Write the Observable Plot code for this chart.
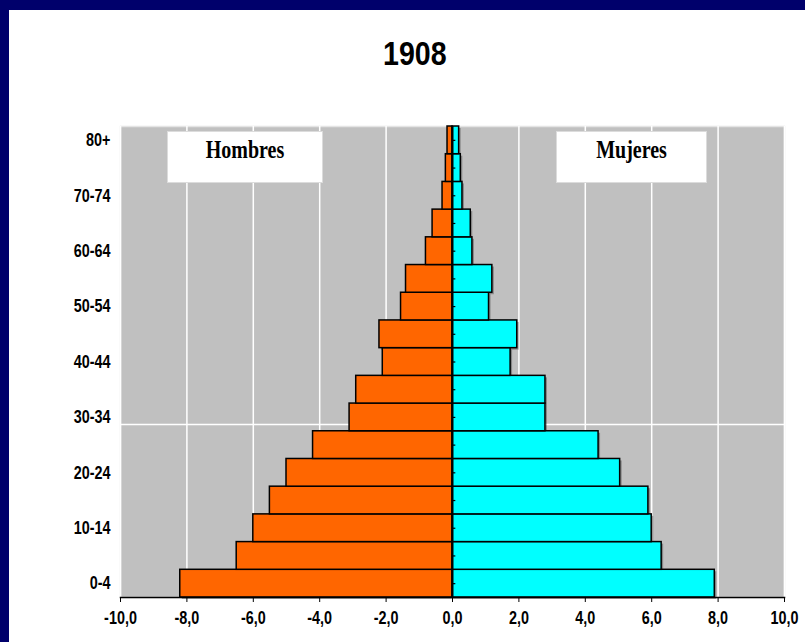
<!DOCTYPE html>
<html><head><meta charset="utf-8">
<script src="https://cdn.jsdelivr.net/npm/d3@7"></script>
<script src="https://cdn.jsdelivr.net/npm/@observablehq/plot@0.6"></script>
<style>
body{margin:0;background:#fff;}
#wrap{position:relative;width:805px;height:642px;background:#00006b;overflow:hidden;}
#panel{position:absolute;left:9px;top:10px;right:0;bottom:0;background:#fff;}
#title{position:absolute;left:0;width:829px;top:34px;text-align:center;line-height:34px;}
#title span{display:inline-block;font:bold 34px 'Liberation Sans',Arial,sans-serif;transform:scaleX(0.84);color:#000;}
#chart{position:absolute;left:0;top:100px;}
.lab{position:absolute;top:131px;height:52px;background:#fff;border:1px solid #dcdcdc;box-sizing:border-box;}
.lab span{position:absolute;left:0;right:0;top:5px;text-align:center;font:bold 25px 'Liberation Serif','Times New Roman',serif;line-height:25px;transform:scaleX(0.8);color:#000;}
</style></head>
<body>
<div id="wrap">
  <div id="panel"></div>
  <div id="title"><span>1908</span></div>
  <div id="chart"></div>
  <div class="lab" style="left:167px;width:156px;"><span>Hombres</span></div>
  <div class="lab" style="left:556px;width:151px;"><span>Mujeres</span></div>
</div>
<script>
const ages = ["0-4","5-9","10-14","15-19","20-24","25-29","30-34","35-39","40-44","45-49","50-54","55-59","60-64","65-69","70-74","75-79","80+"];
const hombres = [8.2, 6.5, 6.0, 5.5, 5.0, 4.2, 3.1, 2.9, 2.1, 2.2, 1.55, 1.4, 0.8, 0.6, 0.3, 0.2, 0.15];
const mujeres = [7.9, 6.3, 6.0, 5.9, 5.05, 4.4, 2.8, 2.8, 1.75, 1.95, 1.1, 1.2, 0.6, 0.55, 0.3, 0.25, 0.2];
const yLabels = ["0-4","10-14","20-24","30-34","40-44","50-54","60-64","70-74","80+"];
const xTicks = [-10,-8,-6,-4,-2,0,2,4,6,8,10];

const dataH = ages.map((a,i)=>({age:a, v:-hombres[i]}));
const dataM = ages.map((a,i)=>({age:a, v:mujeres[i]}));
const fmt = d => d3.format(".1f")(d).replace(".", ",").replace("\u2212","-");
const font = "'Liberation Sans',Arial,sans-serif";

const chart = Plot.plot({
  width: 805, height: 542,
  marginLeft: 120, marginRight: 21, marginTop: 26, marginBottom: 45,
  style: {fontFamily: font, fontWeight: "bold", fontSize: "18px", color: "#000", background: "transparent"},
  x: {domain: [-10, 10], label: null},
  y: {domain: ages.slice().reverse(), padding: 0, round: false, label: null},
  marks: [
    Plot.frame({fill: "#c0c0c0", stroke: "#e4e4e4", strokeWidth: 1.5}),
    Plot.gridX(xTicks, {stroke: "#fff", strokeOpacity: 1, strokeWidth: 1.5}),
    Plot.ruleY(["30-34"], {dy: 7, stroke: "#fff", strokeWidth: 1.5}),
    Plot.barX(dataH, {x: "v", y: "age", fill: "#000", fillOpacity: 0.3, dx: 2, dy: 2}),
    Plot.barX(dataM, {x: "v", y: "age", fill: "#000", fillOpacity: 0.3, dx: 2, dy: 2}),
    Plot.barX(dataH, {x: "v", y: "age", fill: "#ff6600", stroke: "#000", strokeWidth: 1.5}),
    Plot.barX(dataM, {x: "v", y: "age", fill: "#00ffff", stroke: "#000", strokeWidth: 1.5}),
    Plot.ruleX([0], {stroke: "#000", strokeWidth: 2}),
    Plot.ruleY(ages, {x1: 0, x2: 0.1, stroke: "#000", strokeWidth: 1.2}),
    Plot.axisY(yLabels, {tickSize: 0, tickPadding: 10, fontSize: 18}),
    Plot.axisX(xTicks, {tickSize: 5, tickPadding: 9, tickFormat: fmt, fontSize: 18}),
    Plot.frame({anchor: "bottom", stroke: "#000", strokeWidth: 1.5})
  ]
});
document.getElementById("chart").appendChild(chart);
// condense the Arial-like labels as in the reference
d3.select(chart).selectAll("g[aria-label$='tick label'] text").each(function() {
  const L = this.getComputedTextLength();
  this.setAttribute("textLength", (L * 0.8).toFixed(1));
  this.setAttribute("lengthAdjust", "spacingAndGlyphs");
});
</script>
</body></html>
